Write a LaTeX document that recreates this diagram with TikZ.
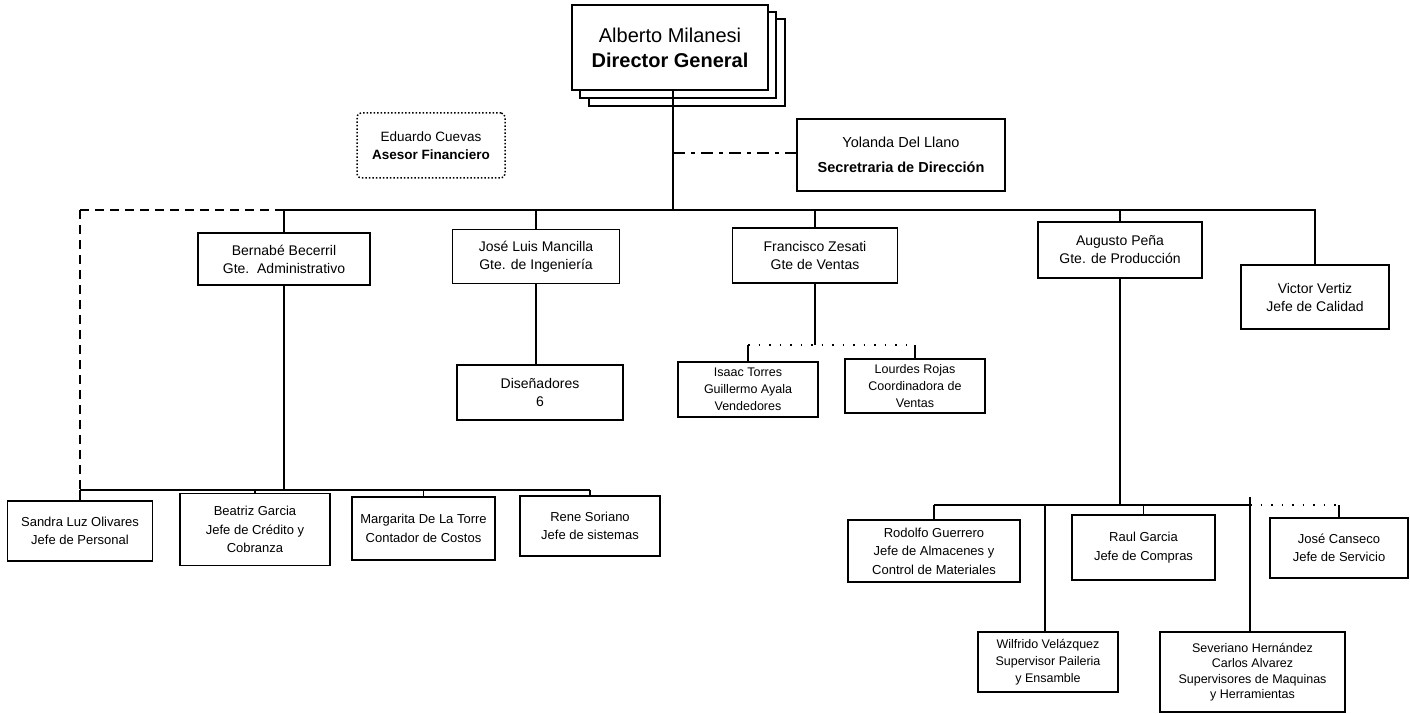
\documentclass[tikz,border=0pt]{standalone}
\usepackage{fontspec}
\setmainfont{Liberation Sans}
\begin{document}
\begin{tikzpicture}[x=1pt,y=-1pt,
  box/.style={draw, line width=1.4pt, fill=white, inner sep=0pt, align=center},
  conn/.style={line width=1.4pt},
  dashconn/.style={line width=1.4pt, dash pattern=on 9pt off 6pt},
  dotconn/.style={line width=1.2pt, dash pattern=on 1.5pt off 9pt},
  fmgr/.style={font=\fontsize{14}{18}\selectfont},
  fsub/.style={font=\fontsize{13}{18.5}\selectfont},
  fsm/.style={font=\fontsize{12.5}{17}\selectfont},
]
\useasboundingbox (0,0) rectangle (1410,714);

% Director (stacked)
\node[box, minimum width=196pt, minimum height=87pt] (layerc) at (687,62.5) {};
\node[box, minimum width=196pt, minimum height=86pt] (layerb) at (678,55) {};
\node[box, minimum width=196pt, minimum height=85pt, font=\fontsize{20}{25}\selectfont] (dir) at (670,47.5) {Alberto Milanesi\\\textbf{Director General}};

% Adviser
\node[draw, dotted, line width=1.5pt, rounded corners=4pt, inner sep=0pt, align=center,
  minimum width=148pt, minimum height=65pt, font=\fontsize{13.5}{18}\selectfont] (adv) at (431,145.5) {Eduardo Cuevas\\\textbf{Asesor Financiero}};

% Secretary
\node[box, minimum width=208pt, minimum height=72pt, font=\fontsize{14.5}{25}\selectfont] (sec) at (901,155) {Yolanda Del Llano\\\textbf{Secretraria de Dirección}};

% Managers
\node[box, fmgr, minimum width=172pt, minimum height=52pt] (bern) at (284,259) {Bernabé Becerril\\Gte.\ \ Administrativo};
\node[box, fmgr, minimum width=167pt, minimum height=54pt] (jose) at (536,256.5) {José Luis Mancilla\\Gte. de Ingeniería};
\node[box, fmgr, minimum width=165pt, minimum height=55pt] (fran) at (815,255.5) {Francisco Zesati\\Gte de Ventas};
\node[box, fmgr, minimum width=164pt, minimum height=56pt] (aug) at (1120,250) {Augusto Peña\\Gte. de Producción};
\node[box, fmgr, minimum width=148pt, minimum height=64pt] (vic) at (1315,297) {Victor Vertiz\\Jefe de Calidad};

% Engineering / sales
\node[box, fmgr, minimum width=166pt, minimum height=55pt] (dis) at (540,392.5) {Diseñadores\\6};
\node[box, fsm, minimum width=140pt, minimum height=55pt] (isaac) at (748,389.5) {Isaac Torres\\Guillermo Ayala\\Vendedores};
\node[box, fsm, minimum width=140pt, minimum height=54pt] (lour) at (915,386) {Lourdes Rojas\\Coordinadora de\\Ventas};

% Administration staff
\node[box, fsub, minimum width=145pt, minimum height=60pt] (sandra) at (80,531) {Sandra Luz Olivares\\Jefe de Personal};
\node[box, fsub, minimum width=150pt, minimum height=72pt] (beat) at (255,529.5) {Beatriz Garcia\\Jefe de Crédito y\\Cobranza};
\node[box, fsub, minimum width=143pt, minimum height=63pt] (marg) at (423.5,528.5) {Margarita De La Torre\\Contador de Costos};
\node[box, fsub, minimum width=140pt, minimum height=60pt] (rene) at (590,526) {Rene Soriano\\Jefe de sistemas};

% Production staff
\node[box, fsub, minimum width=172pt, minimum height=62pt] (rod) at (934,551) {Rodolfo Guerrero\\Jefe de Almacenes y\\Control de Materiales};
\node[box, fsub, minimum width=143pt, minimum height=65pt] (raul) at (1143.5,547.5) {Raul Garcia\\Jefe de Compras};
\node[box, fsub, minimum width=138pt, minimum height=60pt] (can) at (1339,548) {José Canseco\\Jefe de Servicio};
\node[box, fsm, minimum width=140pt, minimum height=60pt] (wil) at (1048,662) {Wilfrido Velázquez\\Supervisor Paileria\\y Ensamble};
\node[box, font=\fontsize{12.5}{15.5}\selectfont, minimum width=185pt, minimum height=80pt] (sev) at (1252.5,672) {Severiano Hernández\\Carlos Alvarez\\Supervisores de Maquinas\\y Herramientas};

% Coordinates of the lines
\coordinate (dbus) at (673,210);
\coordinate (dsec) at (673,153);
\coordinate (busL) at (80,210);
\coordinate (admL) at (80,490);
\coordinate (sal) at (815,345);
\coordinate (prod) at (1120,505);
\coordinate (pw) at (1045,505);
\coordinate (ps) at (1250,505);
\coordinate (pstop) at (1250,497);

% Director connections
\draw[conn] (dir.south -| dbus) -- (dbus);
\draw[conn, dash pattern=on 12pt off 6pt on 4pt off 6pt] (dsec) -- (sec.west |- dsec);

% Main bus
\draw[dashconn] (busL) -- (bern.north |- busL);
\draw[conn] (bern.north |- busL) -- (vic.north |- busL) -- (vic.north);
\foreach \n in {bern,jose,fran,aug} \draw[conn] (\n.north |- busL) -- (\n.north);

% Administration
\draw[dashconn] (busL) -- (admL);
\draw[conn] (bern.south) -- (bern.south |- admL);
\draw[conn] (admL) -- (rene.north |- admL);
\foreach \n in {sandra,beat,marg,rene} \draw[conn] (\n.north |- admL) -- (\n.north);

% Engineering
\draw[conn] (jose.south) -- (jose.south |- dis.north);

% Sales
\draw[conn] (fran.south) -- (sal);
\draw[dotconn] (isaac.north |- sal) -- (lour.north |- sal);
\draw[conn] (isaac.north |- sal) -- (isaac.north);
\draw[conn] (lour.north |- sal) -- (lour.north);

% Production
\draw[conn] (aug.south) -- (aug.south |- prod);
\draw[conn] (rod.north |- prod) -- (ps);
\draw[dotconn] (ps) -- (can.north |- prod);
\draw[conn] (rod.north |- prod) -- (rod.north);
\draw[conn] (raul.north |- prod) -- (raul.north);
\draw[conn] (can.north |- prod) -- (can.north);
\draw[conn] (pw) -- (wil.north -| pw);
\draw[conn] (pstop) -- (sev.north -| ps);
\end{tikzpicture}
\end{document}
